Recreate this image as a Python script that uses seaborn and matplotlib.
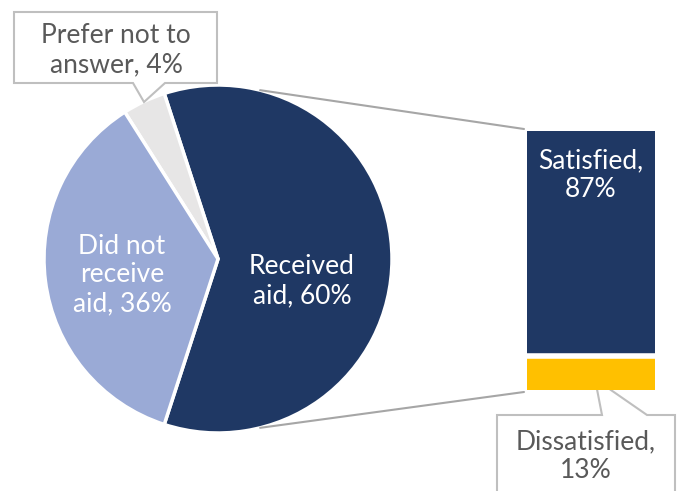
import numpy as np
import matplotlib
matplotlib.use("Agg")
import matplotlib.pyplot as plt
from matplotlib.patches import Polygon
import seaborn as sns
import pandas as pd

sns.set_theme(style="white")
plt.rcParams["font.family"] = ["Lato", "DejaVu Sans"]

# Pie: aid status
pie_labels = ["Received\naid, 60%", "Prefer not to\nanswer, 4%", "Did not\nreceive\naid, 36%"]
pie_values = [60, 4, 36]
pie_colors = ["#1F3864", "#E7E6E6", "#9AAAD6"]

# Bar: satisfaction among those who received aid
bar_labels = ["Satisfied,\n87%", "Dissatisfied,\n13%"]
bar_values = [87, 13]
bar_colors = ["#1F3864", "#FFC000"]

W, H = 679, 491
fig = plt.figure(figsize=(W / 100, H / 100), dpi=100)
ax = fig.add_axes([0, 0, 1, 1])

def Y(y):
    return H - y

cx, cy, r = 218, Y(259), 174
start = -pie_values[0] / 100 * 360 / 2
ax.pie(pie_values, colors=pie_colors, startangle=start, counterclock=True,
       center=(cx, cy), radius=r, frame=True,
       wedgeprops=dict(edgecolor="white", linewidth=2.5))
ax.set_xlim(0, W)
ax.set_ylim(0, H)
ax.set_aspect("equal")
ax.axis("off")

txt = dict(fontsize=19, ha="center", va="center", linespacing=1.2)
ax.text(302, Y(281), pie_labels[0], color="white", **txt)
ax.text(122, Y(275), pie_labels[2], color="white", **txt)

# Stacked bar
bx0, bx1, by0, by1 = 527, 655, 131, 390
bax = fig.add_axes([bx0 / W, (H - by1) / H, (bx1 - bx0) / W, (by1 - by0) / H])
df_total = pd.DataFrame({"g": ["aid"], "v": [sum(bar_values)]})
df_low = pd.DataFrame({"g": ["aid"], "v": [bar_values[1]]})
sns.barplot(data=df_total, x="g", y="v", color=bar_colors[0], width=1,
            saturation=1, ax=bax, linewidth=0)
sns.barplot(data=df_low, x="g", y="v", color=bar_colors[1], width=1,
            saturation=1, ax=bax, linewidth=0)
bax.axhline(bar_values[1], color="white", linewidth=4)
bax.set_xlim(-0.5, 0.5)
bax.set_ylim(0, 100)
bax.axis("off")
fig.text(591, Y(175), bar_labels[0], color="white", transform=ax.transData, **txt)

# Connector lines from pie to bar
ang = np.deg2rad(76)
ax.plot([cx + r * np.cos(ang), bx0 - 3], [cy + r * np.sin(ang), Y(by0 - 2)],
        color="#A6A6A6", linewidth=1.5)
ax.plot([cx + r * np.cos(-ang), bx0 - 3], [cy + r * np.sin(-ang), Y(by1 + 2)],
        color="#A6A6A6", linewidth=1.5)

def callout(pts):
    ax.add_patch(Polygon([(x, Y(y)) for x, y in pts], closed=True,
                         facecolor="white", edgecolor="#BFBFBF",
                         linewidth=1.5, zorder=5))

callout([(14, 12), (217, 12), (217, 83), (165, 83), (144, 102), (133, 83), (14, 83)])
ax.text(116, Y(50), pie_labels[1], color="#595959", zorder=6, **txt)

callout([(497, 415), (602, 415), (595, 379), (647, 415), (675, 415), (675, 500), (497, 500)])
ax.text(586, Y(456), bar_labels[1], color="#595959", zorder=6, **txt)

fig.savefig("out.png", dpi=100)
